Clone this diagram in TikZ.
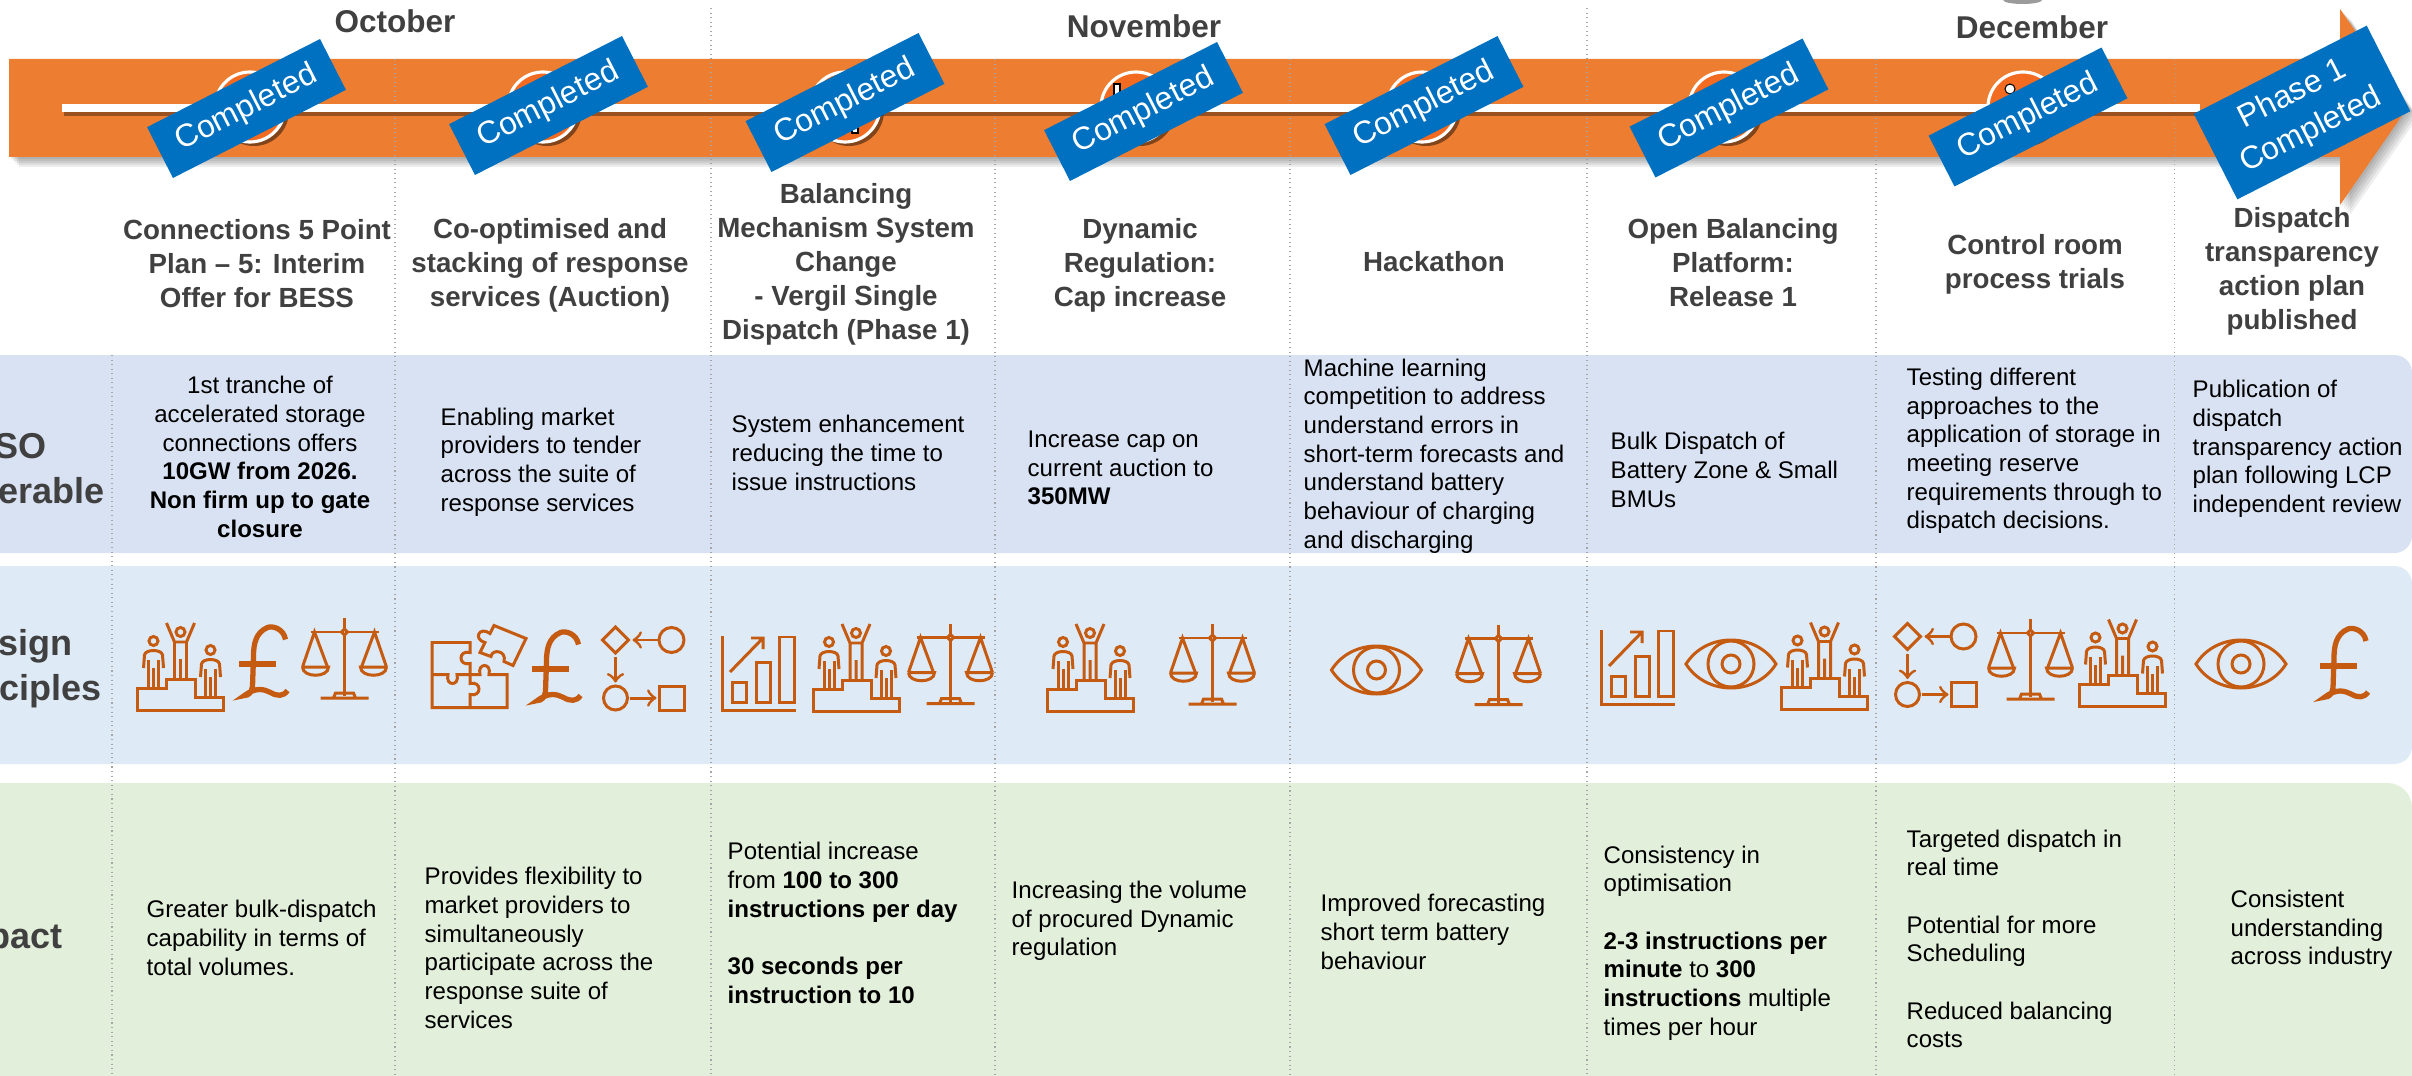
\documentclass[tikz,border=0pt]{standalone}
\usepackage{fontspec}
\setmainfont{Liberation Sans}
\usetikzlibrary{calc}

\definecolor{arroworange}{HTML}{ED7D31}
\definecolor{dotorange}{HTML}{F26B21}
\definecolor{tagblue}{HTML}{0070C0}
\definecolor{iconorange}{HTML}{C55A11}
\definecolor{bandone}{HTML}{D9E2F3}
\definecolor{bandtwo}{HTML}{DEEAF6}
\definecolor{bandthree}{HTML}{E2EFDA}
\definecolor{titlegrey}{HTML}{404040}

\tikzset{
    monthlabel/.style={font=\fontsize{8.96}{10.5}\selectfont\bfseries,text=titlegrey,inner sep=0pt},
    headlabel/.style={font=\fontsize{7.88}{9.65}\selectfont\bfseries,text=titlegrey,align=center,inner sep=0pt},
    sidelabel/.style={font=\fontsize{10.24}{12}\selectfont\bfseries,text=titlegrey,inner sep=0pt,anchor=base east},
    bodytext/.style={font=\fontsize{6.84}{8.15}\selectfont,text=black,align=left,anchor=west,inner sep=0pt},
    completedtag/.style={fill=tagblue,text=white,rotate=27,minimum width=1.94cm,minimum height=0.57cm,inner sep=0pt,align=center,font=\fontsize{9.05}{11.6}\selectfont},
    iconline/.style={draw=iconorange,line width=0.85pt,fill=none},
    iconperson/.pic={
        \draw[iconline] (0,-47) circle (4.5);
        \draw[iconline] (-10,-20) -- (-9,-33) .. controls (-8,-39) and (8,-39) .. (9,-33) -- (10,-20);
        \draw[iconline] (-5,0) -- (-5,-28) (5,0) -- (5,-28) (0,0) -- (0,-20);
    },
    iconpeople/.pic={
        % steps
        \draw[iconline] (-43,43) -- (-43,21) -- (-14,21) -- (-14,12) -- (15,12) -- (15,30) -- (43,30) -- (43,43) -- cycle;
        \pic at (-27,21) {iconperson};
        \pic at (30,30) {iconperson};
        % winner with raised arms
        \draw[iconline] (0,-35) circle (4.5);
        \draw[iconline] (-14,-44) -- (-6,-25) -- (-6,12) (14,-44) -- (6,-25) -- (6,12) (-6,-25) -- (6,-25) (0,-8) -- (0,12);
    },
    iconscales/.pic={
        \draw[iconline] (0,-41) -- (0,37) (-34,-27) -- (34,-27);
        \draw[iconline,fill=bandtwo] (0,-30) -- (3,-27) -- (0,-24) -- (-3,-27) -- cycle;
        \draw[iconline] (-42,8) -- (-30,-27) -- (-17,8) (42,8) -- (30,-27) -- (17,8);
        \draw[iconline] (-42,8) -- (-16,8) .. controls (-16,19) and (-42,19) .. (-42,8);
        \draw[iconline] (42,8) -- (16,8) .. controls (16,19) and (42,19) .. (42,8);
        \draw[iconline] (-24,39) -- (24,39) (-11,39) -- (-9,34) -- (9,34) -- (11,39);
    },
    iconpound/.pic={
        \draw[iconorange,line width=1.5pt] (21,-23) .. controls (19,-34) and (8,-37) .. (3,-35) .. controls (-9,-30) and (-11,-18) .. (-11,-6) -- (-12,24) .. controls (-13,30) and (-16,33) .. (-20,33) .. controls (-8,24) and (0,27) .. (6,30) .. controls (13,34) and (19,34) .. (23,28);
        \fill[iconorange] (-25.5,-1.5) rectangle (11.5,4.5);
    },
    iconeye/.pic={
        \draw[iconline] (-45,0) .. controls (-25,-32) and (25,-32) .. (45,0) .. controls (25,32) and (-25,32) .. cycle;
        \draw[iconline] (0,0) circle (23);
        \draw[iconline] (0,0) circle (9);
    },
    iconchart/.pic={
        \draw[iconline] (-37,-38) -- (-37,36) -- (37,36);
        \draw[iconline] (-27,8) rectangle (-13,28);
        \draw[iconline] (-3,-12) rectangle (11,28);
        \draw[iconline] (20,-37) rectangle (35,28);
        \draw[iconline] (-29,-2) -- (4,-36) (-8,-36) -- (4,-36) -- (4,-25);
    },
    iconflow/.pic={
        \draw[iconline] (-41,-28.5) -- (-28,-41.5) -- (-15,-28.5) -- (-28,-15.5) -- cycle;
        \draw[iconline] (28,-28.5) circle (12.5);
        \draw[iconline] (-28,29.5) circle (12);
        \draw[iconline] (16,17.5) rectangle (41,41.5);
        \draw[iconline,->,>=to] (14,-28.5) -- (-11,-28.5);
        \draw[iconline,->,>=to] (-28,-11.5) -- (-28,14);
        \draw[iconline,->,>=to] (-14,29.5) -- (13,29.5);
    },
    iconpuzzle/.pic={
        \draw[iconline] (-47,-24) -- (-9,-24) -- (-9,-14) .. controls (-21,-17) and (-21,0) .. (-9,-3) -- (-9,8) -- (1,8) .. controls (-2,-4) and (13,-4) .. (10,8) -- (28,8) -- (28,41) -- (-47,41) -- cycle;
        \draw[iconline] (-47,8) -- (-31,8) .. controls (-34,20) and (-19,20) .. (-22,8) -- (-9,8);
        \draw[iconline] (-9,8) -- (-9,17) .. controls (3,14) and (3,31) .. (-9,28) -- (-9,41);
        \draw[iconline] (15,-41) -- (47,-28) -- (34,-1) -- (25,-5) .. controls (28,-16) and (13,-18) .. (12,-10) -- (1,-14) -- (6,-24) .. controls (-6,-27) and (0,-41) .. (11,-33) -- cycle;
    }
}

\begin{document}
\begin{tikzpicture}[x=0.01cm,y=-0.01cm]
    % Page in pixels of the reference
    \useasboundingbox (0,0) rectangle (2412,1076);
    \clip (0,0) rectangle (2412,1076);
    \def\arrowpath{(9,59) -- (2340,59) -- (2340,9) -- (2408,107) -- (2340,205) -- (2340,157) -- (9,157) -- cycle}

    % Draw the three bands
    \fill[bandone,rounded corners=5pt] (-100,355) rectangle (2412,553);
    \fill[bandtwo,rounded corners=5pt] (-100,566) rectangle (2412,764);
    \fill[bandthree,rounded corners=7pt] (-100,783) rectangle (2412,1200);

    % Draw the big arrow with its soft shadow
    \foreach \o in {2,4,6,8,10}
        \fill[black,opacity=0.07,shift={(\o,\o)}] \arrowpath;
    \fill[arroworange] \arrowpath;
    \fill[black!65,opacity=0.6] (2003,0) -- (2042,0) arc (0:180:19.5 and 4) -- cycle;

    % Draw the column lines
    \foreach \x/\ytop in {112/355,395/59,711/8,995/59,1290/59,1587/8,1876/59,2174/59}
        \draw[gray!70,densely dotted,line width=0.3pt] (\x,\ytop) -- (\x,1076);

    % Draw the white time line
    \fill[black!35!arroworange] (64,112) rectangle (2200,116);
    \fill[white] (62,104) rectangle (2200,112);

    % Draw the milestones under the tags
    \foreach \x in {250,543,845,1136,1422,1724,2023} {
        \fill[black,opacity=0.45] (\x+4,111) circle (35);
        \draw[white,line width=0.9pt,fill=dotorange] (\x,107) circle (35);
    }
    \draw[black,fill=white,line width=0.3pt] (1114,84) rectangle (1120,96);
    \draw[black,fill=white,line width=0.3pt] (852,125) rectangle (858,133);
    \draw[black,fill=white,line width=0.3pt] (2010,89) circle (5);

    % Draw the tags
    \foreach \i/\x/\y in {1/246.5/108.5,2/548.5/105.5,3/845/102.5,4/1143.5/111.5,5/1424/105.5,6/1729/108,7/2028/117}
        \node[completedtag] (tag\i) at (\x,\y) {Completed};
    \node[completedtag,minimum height=0.96cm] (tag8) at (2302,112.5) {Phase 1\\Completed};

    % Months
    \node[monthlabel] (october) at (395,21) {October};
    \node[monthlabel] (november) at (1144,26) {November};
    \node[monthlabel] (december) at (2032,27) {December};

    % Column titles
    \node[headlabel] (head1) at (257,264) {Connections 5 Point\\Plan -- 5: Interim\\Offer for BESS};
    \node[headlabel] (head2) at (550,265) {Co-optimised and\\stacking of response\\services (Auction)};
    \node[headlabel] (head3) at (846,264) {Balancing\\Mechanism System\\Change\\- Vergil Single\\Dispatch (Phase 1)};
    \node[headlabel] (head4) at (1140,265) {Dynamic\\Regulation:\\Cap increase};
    \node[headlabel] (head5) at (1434,262) {Hackathon};
    \node[headlabel] (head6) at (1733,263) {Open Balancing\\Platform:\\Release 1};
    \node[headlabel] (head7) at (2035,264) {Control room\\process trials};
    \node[headlabel] (head8) at (2292,271) {Dispatch\\transparency\\action plan\\published};

    % Side labels, cut by the page edge
    \node[sidelabel] (sideone) at (47,458) {SO};
    \node[sidelabel] (sidetwo) at (105,503) {erable};
    \node[sidelabel] (sidethree) at (73,655) {sign};
    \node[sidelabel] (sidefour) at (102,700) {ciples};
    \node[sidelabel] (sidefive) at (63,948) {pact};

    % Deliverable row
    \node[bodytext,align=center,anchor=center] (deliv1) at (260,457) {1st tranche of\\accelerated storage\\connections offers\\\textbf{10GW from 2026.}\\\textbf{Non firm up to gate}\\\textbf{closure}};
    \node[bodytext] (deliv2) at (440,462) {Enabling market\\providers to tender\\across the suite of\\response services};
    \node[bodytext] (deliv3) at (731,453) {System enhancement\\reducing the time to\\issue instructions};
    \node[bodytext] (deliv4) at (1027,468) {Increase cap on\\current auction to\\\textbf{350MW}};
    \node[bodytext] (deliv5) at (1303,456) {Machine learning\\competition to address\\understand errors in\\short-term forecasts and\\understand battery\\behaviour of charging\\and discharging};
    \node[bodytext] (deliv6) at (1610,470) {Bulk Dispatch of\\Battery Zone \& Small\\BMUs};
    \node[bodytext] (deliv7) at (1906,451) {Testing different\\approaches to the\\application of storage in\\meeting reserve\\requirements through to\\dispatch decisions.};
    \node[bodytext] (deliv8) at (2192,449) {Publication of\\dispatch\\transparency action\\plan following LCP\\independent review};

    % Icons of the design row
    \foreach \x/\y in {180.5/667,856/668,1090/668,1824.5/666.5,2122.5/663.5}
        \pic at (\x,\y) {iconpeople};
    \foreach \x/\y in {344.5/659,950.5/664.5,1212.5/665,1498.5/665.5,2030.5/660}
        \pic at (\x,\y) {iconscales};
    \foreach \x/\y in {264.5/662.5,557.5/667.5,2345/664}
        \pic at (\x,\y) {iconpound};
    \foreach \x/\y in {1376.5/670,1731/664,2241/664}
        \pic at (\x,\y) {iconeye};
    \foreach \x/\y in {759/674,1638/668}
        \pic at (\x,\y) {iconchart};
    \foreach \x/\y in {643.5/668.5,1935.5/665}
        \pic at (\x,\y) {iconflow};
    \pic at (479,666.5) {iconpuzzle};

    % Impact row
    \node[bodytext] (impact1) at (146,938) {Greater bulk-dispatch\\capability in terms of\\total volumes.};
    \node[bodytext] (impact2) at (424,948) {Provides flexibility to\\market providers to\\simultaneously\\participate across the\\response suite of\\services};
    \node[bodytext] (impact3) at (727,923) {Potential increase\\from \textbf{100 to 300}\\\textbf{instructions per day}\\[8.15pt]\textbf{30 seconds per}\\\textbf{instruction to 10}};
    \node[bodytext] (impact4) at (1011,921) {Increasing the volume\\of procured Dynamic\\regulation};
    \node[bodytext] (impact5) at (1320,932) {Improved forecasting\\short term battery\\behaviour};
    \node[bodytext] (impact6) at (1603,943) {Consistency in\\optimisation\\[8.15pt]\textbf{2-3 instructions per}\\\textbf{minute} to \textbf{300}\\\textbf{instructions} multiple\\times per hour};
    \node[bodytext] (impact7) at (1906,939) {Targeted dispatch in\\real time\\[8.15pt]Potential for more\\Scheduling\\[8.15pt]Reduced balancing\\costs};
    \node[bodytext] (impact8) at (2230,930) {Consistent\\understanding\\across industry};
\end{tikzpicture}
\end{document}
